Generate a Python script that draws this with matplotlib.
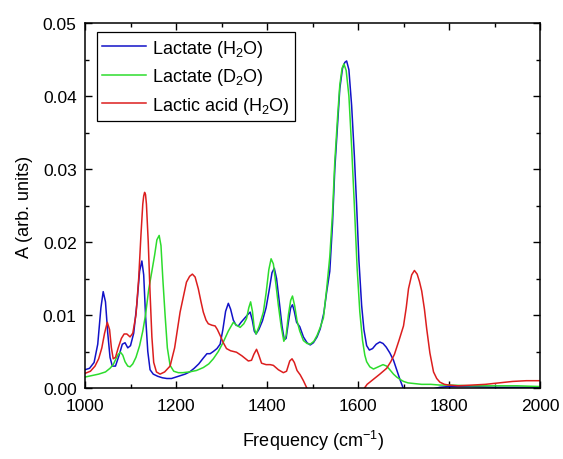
import matplotlib
matplotlib.use("Agg")
import matplotlib.pyplot as plt
from matplotlib.ticker import MultipleLocator, FormatStrFormatter

plt.rcParams['font.family'] = ['Liberation Sans', 'DejaVu Sans']
plt.rcParams['mathtext.fontset'] = 'custom'
plt.rcParams['mathtext.rm'] = 'Liberation Sans'
plt.rcParams['mathtext.it'] = 'Liberation Sans:italic'

# Lactate (H2O)
blue_x = [1000, 1010, 1020, 1028, 1035, 1040, 1045, 1050, 1055, 1060, 1067, 1075, 1082, 1088, 1094,
          1100, 1107, 1114, 1120, 1125, 1129, 1133, 1138, 1143, 1150, 1160, 1170, 1180, 1190, 1200,
          1210, 1220, 1230, 1240, 1250, 1260, 1268, 1275, 1282, 1290, 1297, 1303, 1309, 1315, 1320,
          1326, 1332, 1337, 1343, 1350, 1357, 1363, 1368, 1372, 1376, 1382, 1390, 1398, 1405, 1411,
          1416, 1421, 1427, 1433, 1438, 1442, 1447, 1452, 1456, 1460, 1465, 1472, 1480, 1488, 1495,
          1502, 1510, 1517, 1525, 1531, 1538, 1544, 1549, 1555, 1560, 1566, 1571, 1575, 1580, 1586,
          1592, 1597, 1602, 1608, 1613, 1619, 1625, 1632, 1640, 1648, 1655, 1662, 1670, 1678, 1685,
          1692, 1698, 1702, 1710, 1730, 1760, 1780, 1800, 1850, 1900, 1950, 2000]
blue_y = [0.0025, 0.0027, 0.0035, 0.0060, 0.0110, 0.0132, 0.0118, 0.0075, 0.0042, 0.0030, 0.0030,
          0.0045, 0.0060, 0.0062, 0.0055, 0.0058, 0.0075, 0.0115, 0.0160, 0.0174, 0.0155, 0.0100,
          0.0050, 0.0025, 0.0019, 0.0016, 0.0014, 0.0013, 0.0013, 0.0015, 0.0017, 0.0019, 0.0022,
          0.0027, 0.0033, 0.0041, 0.0047, 0.0047, 0.0050, 0.0054, 0.0060, 0.0080, 0.0105, 0.0116,
          0.0108, 0.0093, 0.0086, 0.0085, 0.0090, 0.0095, 0.0100, 0.0104, 0.0092, 0.0078, 0.0074,
          0.0080, 0.0092, 0.0110, 0.0135, 0.0158, 0.0164, 0.0150, 0.0118, 0.0085, 0.0066, 0.0068,
          0.0090, 0.0110, 0.0114, 0.0105, 0.0090, 0.0084, 0.0070, 0.0062, 0.0059, 0.0062, 0.0070,
          0.0081, 0.0103, 0.0131, 0.0160, 0.0225, 0.0300, 0.0360, 0.0410, 0.0438, 0.0446, 0.0448,
          0.0436, 0.0387, 0.0318, 0.0250, 0.0175, 0.0113, 0.0080, 0.0058, 0.0052, 0.0054, 0.0060,
          0.0063, 0.0061, 0.0056, 0.0048, 0.0038, 0.0025, 0.0012, 0.0002, -0.0005, -0.0006, -0.0005,
          -0.0002, 0.0001, 0.0002, 0.0002, 0.0001, 0.0001, 0.0001]

# Lactate (D2O)
green_x = [1000, 1015, 1030, 1045, 1055, 1062, 1068, 1073, 1078, 1083, 1088, 1094, 1099, 1105, 1112,
           1120, 1127, 1133, 1140, 1147, 1153, 1158, 1163, 1167, 1171, 1176, 1181, 1187, 1195, 1205,
           1215, 1229, 1245, 1260, 1272, 1282, 1293, 1304, 1315, 1326, 1333, 1341, 1349, 1355, 1360,
           1364, 1368, 1372, 1376, 1383, 1392, 1398, 1404, 1409, 1414, 1420, 1425, 1431, 1437, 1442,
           1447, 1452, 1456, 1461, 1466, 1472, 1480, 1488, 1495, 1503, 1510, 1517, 1524, 1531, 1538,
           1544, 1549, 1555, 1560, 1565, 1569, 1574, 1580, 1586, 1592, 1598, 1604, 1610, 1615, 1619,
           1626, 1634, 1641, 1648, 1655, 1663, 1670, 1678, 1685, 1692, 1700, 1710, 1725, 1740, 1760,
           1780, 1800, 1850, 1900, 1950, 2000]
green_y = [0.0015, 0.0017, 0.0019, 0.0022, 0.0027, 0.0032, 0.0040, 0.0046, 0.0049, 0.0045, 0.0036,
           0.0030, 0.0029, 0.0033, 0.0042, 0.0058, 0.0078, 0.0100, 0.0135, 0.0160, 0.0182, 0.0203,
           0.0209, 0.0195, 0.0150, 0.0100, 0.0055, 0.0031, 0.0023, 0.0021, 0.0021, 0.0022, 0.0024,
           0.0028, 0.0033, 0.0040, 0.0050, 0.0063, 0.0078, 0.0090, 0.0086, 0.0083, 0.0088, 0.0095,
           0.0110, 0.0118, 0.0105, 0.0082, 0.0074, 0.0085, 0.0104, 0.0130, 0.0162, 0.0177, 0.0170,
           0.0140, 0.0113, 0.0085, 0.0064, 0.0072, 0.0100, 0.0120, 0.0126, 0.0112, 0.0092, 0.0078,
           0.0065, 0.0061, 0.0060, 0.0064, 0.0072, 0.0083, 0.0096, 0.0135, 0.0180, 0.0240, 0.0310,
           0.0370, 0.0415, 0.0438, 0.0444, 0.0435, 0.0400, 0.0330, 0.0250, 0.0165, 0.0104, 0.0065,
           0.0045, 0.0036, 0.0029, 0.0026, 0.0028, 0.0030, 0.0032, 0.0030, 0.0025, 0.0019, 0.0015,
           0.0012, 0.0009, 0.0007, 0.0006, 0.0005, 0.0005, 0.0004, 0.0004, 0.0003, 0.0003, 0.0003,
           0.0002]

# Lactic acid (H2O)
red_x = [1000, 1012, 1022, 1030, 1037, 1043, 1049, 1054, 1058, 1062, 1067, 1073, 1080, 1086, 1092,
         1099, 1105, 1112, 1118, 1123, 1127, 1129, 1131, 1133, 1135, 1139, 1143, 1147, 1151, 1157,
         1165, 1175, 1187, 1197, 1209, 1223, 1230, 1236, 1242, 1249, 1255, 1260, 1266, 1271, 1279,
         1286, 1291, 1297, 1304, 1311, 1320, 1333, 1345, 1359, 1366, 1371, 1377, 1382, 1388, 1398,
         1407, 1414, 1425, 1436, 1443, 1450, 1455, 1460, 1466, 1473, 1480, 1486, 1495, 1520, 1560,
         1600, 1612, 1620, 1634, 1648, 1663, 1672, 1680, 1690, 1700, 1706, 1711, 1718, 1724, 1730,
         1735, 1740, 1746, 1751, 1758, 1766, 1773, 1780, 1790, 1800, 1820, 1850, 1880, 1910, 1940,
         1970, 2000]
red_y = [0.0020, 0.0023, 0.0030, 0.0040, 0.0055, 0.0075, 0.0090, 0.0080, 0.0055, 0.0040, 0.0042,
         0.0055, 0.0068, 0.0074, 0.0074, 0.0070, 0.0075, 0.0100, 0.0150, 0.0210, 0.0252, 0.0263,
         0.0268, 0.0265, 0.0252, 0.0200, 0.0130, 0.0070, 0.0035, 0.0022, 0.0019, 0.0022, 0.0030,
         0.0055, 0.0104, 0.0145, 0.0153, 0.0156, 0.0152, 0.0136, 0.0118, 0.0104, 0.0093, 0.0088,
         0.0086, 0.0085, 0.0080, 0.0072, 0.0062, 0.0054, 0.0051, 0.0049, 0.0044, 0.0037, 0.0038,
         0.0046, 0.0053, 0.0045, 0.0034, 0.0032, 0.0032, 0.0031, 0.0025, 0.0021, 0.0023, 0.0037,
         0.0040, 0.0035, 0.0024, 0.0018, 0.0010, 0.0002, -0.0010, -0.0030, -0.0040, -0.0020,
         -0.0002, 0.0005, 0.0012, 0.0019, 0.0027, 0.0036, 0.0046, 0.0065, 0.0085, 0.0110, 0.0136,
         0.0155, 0.0161, 0.0156, 0.0146, 0.0133, 0.0108, 0.0081, 0.0048, 0.0022, 0.0013, 0.0008,
         0.0005, 0.0004, 0.0003, 0.0004, 0.0005, 0.0007, 0.0009, 0.0010, 0.0010]

labels = ['Lactate (H$_2$O)', 'Lactate (D$_2$O)', 'Lactic acid (H$_2$O)']
colors = ['#1212c8', '#2ddc2d', '#dc1e1e']

fig = plt.figure(figsize=(5.63, 4.60), dpi=100)
ax = fig.add_axes([85/563, 71/460, 455/563, 365/460])

ax.plot(blue_x, blue_y, color=colors[0], lw=1.1, label=labels[0])
ax.plot(green_x, green_y, color=colors[1], lw=1.1, label=labels[1])
ax.plot(red_x, red_y, color=colors[2], lw=1.1, label=labels[2])

ax.set_xlim(1000, 2000)
ax.set_ylim(0, 0.05)
ax.xaxis.set_major_locator(MultipleLocator(200))
ax.xaxis.set_minor_locator(MultipleLocator(100))
ax.yaxis.set_major_locator(MultipleLocator(0.01))
ax.yaxis.set_minor_locator(MultipleLocator(0.005))
ax.yaxis.set_major_formatter(FormatStrFormatter('%.2f'))
ax.tick_params(which='both', direction='in', top=True, right=True, width=1.0, labelsize=12.5)
ax.tick_params(axis='x', pad=7)
ax.tick_params(axis='y', pad=6)
ax.tick_params(which='major', length=5)
ax.tick_params(which='minor', length=3)
for s in ax.spines.values():
    s.set_linewidth(1.1)

ax.set_xlabel('Frequency (cm$^{-1}$)', fontsize=13, labelpad=11)
ax.set_ylabel('A (arb. units)', fontsize=13, labelpad=7)

leg = ax.legend(loc='upper left', bbox_to_anchor=(0.026, 0.975), borderaxespad=0,
                fontsize=13, frameon=True, fancybox=False, framealpha=1, edgecolor='black',
                handlelength=2.4, handletextpad=0.35, labelspacing=0.42, borderpad=0.3)
leg.get_frame().set_linewidth(0.9)

fig.savefig('out.png', dpi=100)
